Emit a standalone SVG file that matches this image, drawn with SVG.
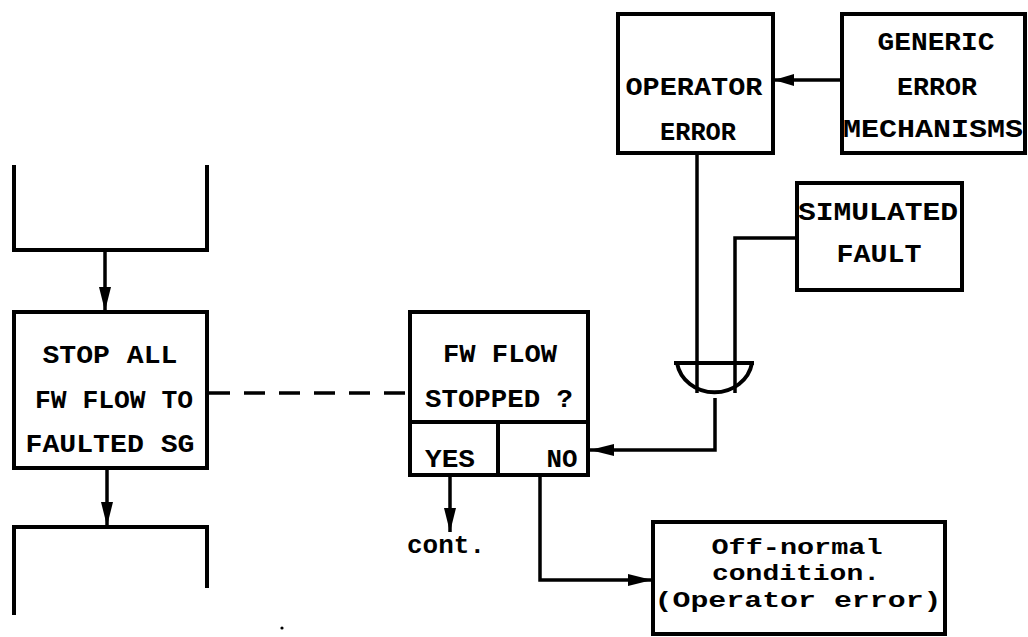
<svg xmlns="http://www.w3.org/2000/svg" width="1028" height="637" viewBox="0 0 1028 637">
<style>
.box{fill:none;stroke:#000;stroke-width:4;stroke-linejoin:miter}
.ln{fill:none;stroke:#000;stroke-width:3.5}
.t{font-family:"Liberation Mono","DejaVu Sans Mono",monospace;font-weight:bold;font-size:26px;fill:#000;text-anchor:middle}
.tl{font-family:"Liberation Mono","DejaVu Sans Mono",monospace;font-weight:bold;font-size:22px;fill:#000;text-anchor:middle}
</style>
<defs>
<marker id="arr" markerUnits="userSpaceOnUse" markerWidth="26" markerHeight="14" refX="24" refY="7" orient="auto">
<path d="M0,1 L24,7 L0,13 z" fill="#000"/>
</marker>
<marker id="arrS" markerUnits="userSpaceOnUse" markerWidth="22" markerHeight="14" refX="20" refY="7" orient="auto">
<path d="M0,1 L20,7 L0,13 z" fill="#000"/>
</marker>
</defs>
<rect width="1028" height="637" fill="#fff"/>

<g id="connectors">
<line class="ln" x1="105" y1="250" x2="105" y2="311" marker-end="url(#arr)"/>
<line class="ln" x1="107" y1="468" x2="107" y2="526" marker-end="url(#arr)"/>
<line class="ln" x1="209" y1="393" x2="408" y2="393" stroke-dasharray="21 14"/>
<line class="ln" x1="842" y1="80" x2="774" y2="80" marker-end="url(#arrS)"/>
<polyline class="ln" points="697,153 697,393"/>
<polyline class="ln" points="797,238 735,238 735,393"/>
<polyline class="ln" points="715,398 715,450 590,450" marker-end="url(#arr)"/>
<line class="ln" x1="450" y1="476" x2="450" y2="532" marker-end="url(#arr)"/>
<polyline class="ln" points="540,476 540,580 652,580" marker-end="url(#arr)"/>
</g>

<g id="top-open-box">
<polyline class="box" points="14,165 14,250 207,250 207,165"/>
</g>

<g id="stop-all">
<rect class="box" x="14" y="312" width="193" height="156"/>
<text class="t" x="110" y="363" textLength="135" lengthAdjust="spacingAndGlyphs">STOP ALL</text>
<text class="t" x="114" y="408" textLength="158" lengthAdjust="spacingAndGlyphs">FW FLOW TO</text>
<text class="t" x="110" y="452" textLength="169" lengthAdjust="spacingAndGlyphs">FAULTED SG</text>
</g>

<g id="bottom-open-box">
<polyline class="box" points="14,615 14,527 209,527"/>
<line class="box" x1="207" y1="527" x2="207" y2="588"/>
</g>

<g id="dot">
<circle cx="282" cy="628" r="1.6" fill="#000"/>
</g>

<g id="fw-flow-stopped">
<rect class="box" x="410" y="312" width="178" height="163"/>
<line class="box" x1="410" y1="422" x2="588" y2="422"/>
<line class="box" x1="498" y1="422" x2="498" y2="475"/>
<text class="t" x="500" y="362" textLength="114" lengthAdjust="spacingAndGlyphs">FW FLOW</text>
<text class="t" x="499" y="407" textLength="148" lengthAdjust="spacingAndGlyphs">STOPPED ?</text>
<text class="t" x="450" y="467" textLength="50" lengthAdjust="spacingAndGlyphs">YES</text>
<text class="t" x="562" y="467" textLength="31" lengthAdjust="spacingAndGlyphs">NO</text>
</g>

<g id="cont">
<text class="t" x="446" y="553" textLength="78" lengthAdjust="spacingAndGlyphs">cont.</text>
</g>

<g id="operator-error">
<rect class="box" x="618" y="14" width="155" height="139"/>
<text class="t" x="694" y="95" textLength="137" lengthAdjust="spacingAndGlyphs">OPERATOR</text>
<text class="t" x="698" y="140" textLength="76" lengthAdjust="spacingAndGlyphs">ERROR</text>
</g>

<g id="generic-error-mechanisms">
<rect class="box" x="842" y="14" width="183" height="139"/>
<text class="t" x="936" y="50" textLength="117" lengthAdjust="spacingAndGlyphs">GENERIC</text>
<text class="t" x="937" y="95" textLength="80" lengthAdjust="spacingAndGlyphs">ERROR</text>
<text class="t" x="933" y="137" textLength="180" lengthAdjust="spacingAndGlyphs">MECHANISMS</text>
</g>

<g id="simulated-fault">
<rect class="box" x="797" y="183" width="165" height="107"/>
<text class="t" x="878" y="220" textLength="160" lengthAdjust="spacingAndGlyphs">SIMULATED</text>
<text class="t" x="879" y="262" textLength="85" lengthAdjust="spacingAndGlyphs">FAULT</text>
</g>

<g id="or-gate">
<path class="box" d="M674,363 H754 M677,363 A38,35 0 0 0 752,363"/>
</g>

<g id="off-normal">
<rect class="box" x="653" y="522" width="292" height="112"/>
<text class="tl" x="797" y="554" textLength="171" lengthAdjust="spacingAndGlyphs">Off-normal</text>
<text class="tl" x="796" y="580" textLength="168" lengthAdjust="spacingAndGlyphs">condition.</text>
<text class="tl" x="798" y="607" textLength="287" lengthAdjust="spacingAndGlyphs">(Operator error)</text>
</g>
</svg>
